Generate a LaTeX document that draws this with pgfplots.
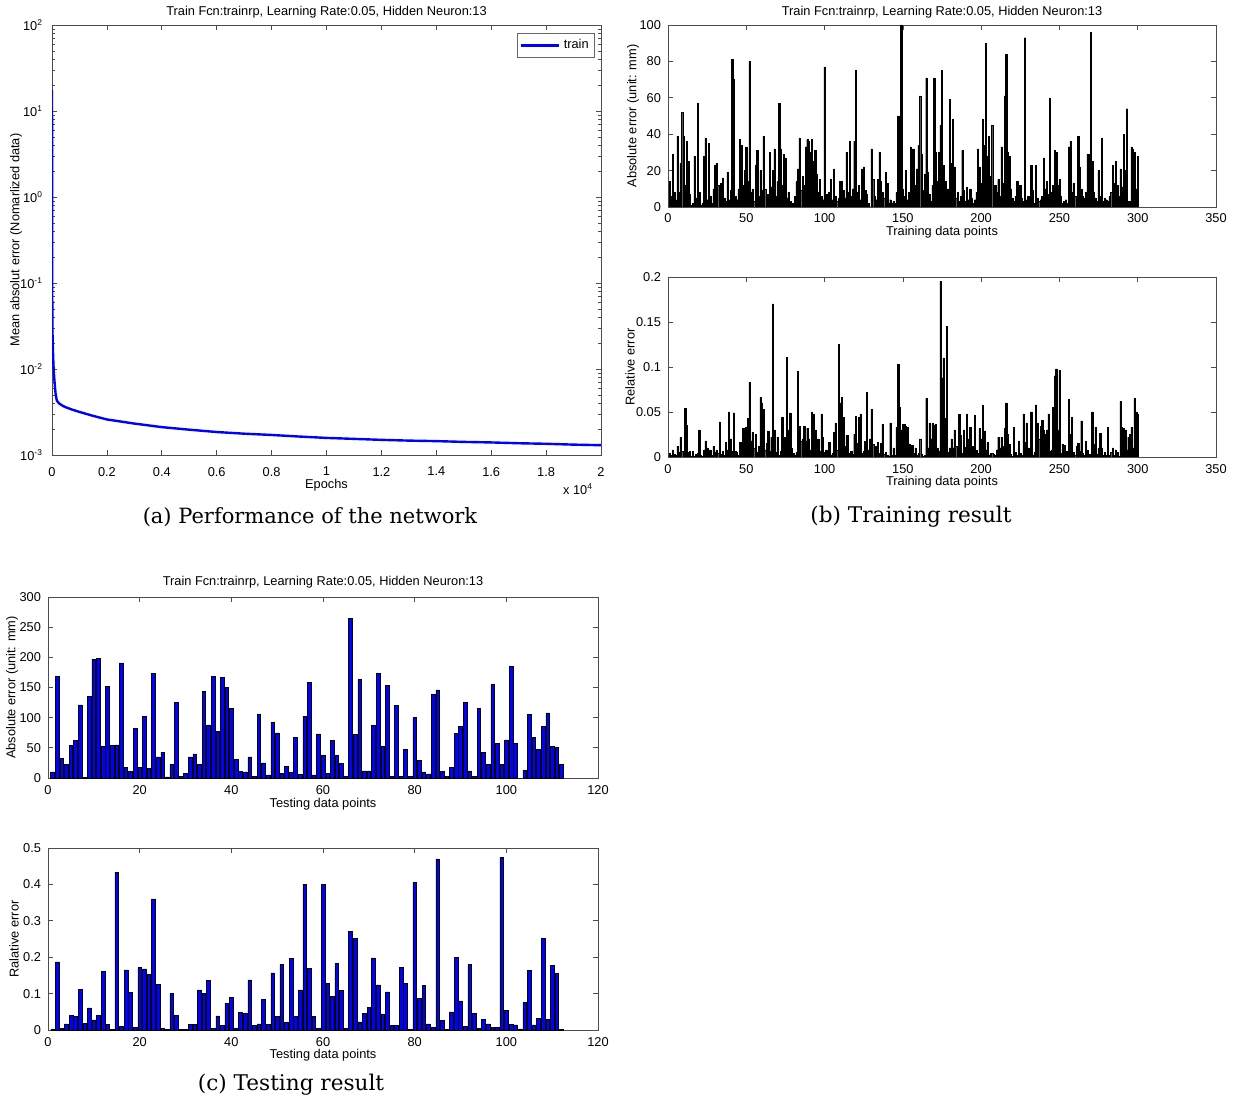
\documentclass[border=0pt]{standalone}
\usepackage{fontspec}
\setmainfont{Liberation Sans}
\newfontfamily\capfont{DejaVu Serif}
\usepackage{pgfplots}
\pgfplotsset{compat=1.18}
\usepackage{pgfplotstable}

\newcommand\mfont{\fontsize{6.4}{7.5}\selectfont}
\newcommand\sups[1]{\raisebox{0.8ex}{\fontsize{4.2}{4.2}\selectfont #1}}
\definecolor{mblue}{rgb}{0,0,1}

% training set, absolute error (mm)
\pgfplotstableread[row sep=\\]{v\\
14\\6\\29\\8\\4\\39\\8\\24\\52\\39\\12\\36\\25\\7\\1\\2\\28\\5\\57\\8\\
1\\2\\28\\38\\4\\35\\6\\2\\10\\23\\24\\12\\8\\13\\16\\5\\3\\19\\4\\9\\
81\\70\\6\\4\\10\\37\\34\\12\\20\\33\\14\\80\\8\\10\\3\\23\\31\\6\\20\\9\\
39\\10\\4\\7\\30\\11\\20\\32\\6\\14\\57\\32\\12\\29\\27\\5\\8\\3\\2\\2\\
6\\14\\21\\38\\9\\17\\12\\33\\37\\36\\30\\37\\25\\31\\18\\8\\15\\6\\4\\77\\
7\\3\\8\\15\\4\\21\\6\\3\\5\\14\\14\\9\\5\\30\\8\\36\\6\\10\\36\\75\\
8\\12\\4\\21\\22\\9\\7\\2\\0\\32\\15\\6\\4\\15\\30\\14\\8\\5\\19\\13\\
2\\4\\2\\3\\2\\8\\50\\29\\100\\10\\6\\20\\4\\8\\33\\32\\32\\12\\21\\34\\
61\\29\\9\\18\\71\\19\\7\\3\\12\\71\\30\\14\\30\\45\\75\\23\\14\\10\\10\\59\\
24\\48\\22\\5\\8\\3\\6\\31\\9\\3\\11\\4\\10\\5\\2\\4\\8\\32\\22\\13\\
48\\34\\90\\28\\39\\17\\45\\8\\12\\8\\15\\6\\33\\13\\61\\84\\30\\28\\10\\5\\
3\\6\\14\\12\\12\\5\\3\\93\\4\\6\\3\\23\\9\\2\\23\\5\\3\\4\\6\\27\\
10\\14\\7\\60\\8\\12\\31\\30\\12\\15\\6\\2\\3\\4\\2\\33\\36\\8\\13\\6\\
5\\39\\22\\10\\6\\5\\8\\29\\29\\96\\25\\8\\5\\3\\20\\6\\38\\3\\5\\4\\
3\\6\\8\\23\\13\\25\\12\\6\\21\\11\\40\\20\\54\\3\\3\\33\\32\\30\\10\\28\\
}\trainabs

% training set, relative error
\pgfplotstableread[row sep=\\]{v\\
0.004\\0.002\\0.008\\0.003\\0.002\\0.012\\0.005\\0.022\\0.006\\0.004\\0.054\\0.035\\0.005\\0.006\\0.001\\0.006\\0.001\\0.003\\0.004\\0.030\\
0.002\\0.001\\0.008\\0.018\\0.010\\0.003\\0.008\\0.002\\0.012\\0.005\\0.008\\0.004\\0.039\\0.003\\0.006\\0.002\\0.016\\0.008\\0.050\\0.020\\
0.006\\0.049\\0.006\\0.005\\0.002\\0.016\\0.016\\0.032\\0.020\\0.033\\0.043\\0.083\\0.018\\0.027\\0.010\\0.025\\0.005\\0.012\\0.066\\0.060\\
0.053\\0.008\\0.015\\0.029\\0.006\\0.022\\0.170\\0.030\\0.005\\0.022\\0.002\\0.006\\0.044\\0.022\\0.022\\0.111\\0.030\\0.049\\0.010\\0.004\\
0.002\\0.005\\0.095\\0.034\\0.018\\0.020\\0.034\\0.018\\0.032\\0.020\\0.008\\0.050\\0.048\\0.030\\0.018\\0.020\\0.006\\0.048\\0.022\\0.005\\
0.008\\0.005\\0.016\\0.002\\0.004\\0.027\\0.038\\0.008\\0.125\\0.060\\0.066\\0.044\\0.012\\0.024\\0.024\\0.004\\0.006\\0.003\\0.025\\0.045\\
0.015\\0.044\\0.048\\0.004\\0.006\\0.017\\0.072\\0.008\\0.020\\0.053\\0.014\\0.004\\0.012\\0.016\\0.004\\0.015\\0.036\\0.003\\0.005\\0.002\\
0.001\\0.038\\0.002\\0.010\\0.002\\0.033\\0.103\\0.055\\0.030\\0.036\\0.036\\0.034\\0.033\\0.014\\0.013\\0.013\\0.004\\0.010\\0.002\\0.004\\
0.020\\0.003\\0.001\\0.002\\0.065\\0.010\\0.038\\0.020\\0.037\\0.035\\0.036\\0.010\\0.006\\0.195\\0.088\\0.110\\0.043\\0.145\\0.005\\0.010\\
0.020\\0.010\\0.030\\0.012\\0.008\\0.047\\0.024\\0.004\\0.030\\0.011\\0.048\\0.020\\0.033\\0.004\\0.012\\0.046\\0.007\\0.004\\0.032\\0.020\\
0.058\\0.029\\0.008\\0.016\\0.002\\0.004\\0.004\\0.003\\0.002\\0.008\\0.022\\0.010\\0.022\\0.012\\0.032\\0.060\\0.025\\0.014\\0.003\\0.001\\
0.033\\0.005\\0.002\\0.018\\0.004\\0.002\\0.048\\0.016\\0.038\\0.010\\0.003\\0.050\\0.002\\0.005\\0.058\\0.038\\0.020\\0.034\\0.041\\0.030\\
0.025\\0.030\\0.048\\0.006\\0.008\\0.055\\0.090\\0.098\\0.030\\0.096\\0.004\\0.014\\0.013\\0.003\\0.006\\0.064\\0.025\\0.044\\0.005\\0.002\\
0.012\\0.015\\0.006\\0.040\\0.004\\0.002\\0.017\\0.008\\0.003\\0.002\\0.050\\0.014\\0.033\\0.003\\0.010\\0.026\\0.010\\0.002\\0.005\\0.002\\
0.033\\0.002\\0.005\\0.010\\0.002\\0.008\\0.005\\0.001\\0.062\\0.033\\0.032\\0.030\\0.008\\0.022\\0.025\\0.033\\0.010\\0.065\\0.050\\0.047\\
}\trainrel

% testing set, absolute error (mm)
\pgfplotstableread[row sep=\\]{v\\
10\\168\\33\\23\\54\\62\\121\\1\\135\\197\\198\\53\\152\\54\\55\\191\\17\\11\\82\\18\\
102\\16\\174\\35\\43\\2\\23\\125\\3\\8\\35\\40\\22\\144\\88\\169\\77\\167\\150\\116\\
31\\11\\10\\35\\3\\105\\25\\5\\92\\75\\8\\19\\9\\67\\6\\102\\159\\5\\73\\37\\
8\\62\\38\\24\\3\\265\\72\\163\\12\\12\\87\\173\\53\\154\\3\\120\\3\\48\\3\\100\\
29\\10\\7\\139\\146\\11\\3\\18\\74\\86\\125\\12\\3\\115\\43\\22\\155\\57\\23\\63\\
185\\58\\0\\13\\106\\67\\47\\85\\108\\52\\51\\22\\
}\testabs

% testing set, relative error
\pgfplotstableread[row sep=\\]{v\\
0.003\\0.187\\0.005\\0.017\\0.040\\0.037\\0.111\\0.018\\0.061\\0.028\\0.040\\0.162\\0.015\\0.002\\0.434\\0.010\\0.165\\0.104\\0.008\\0.172\\
0.168\\0.152\\0.360\\0.126\\0.004\\0.002\\0.101\\0.040\\0.002\\0.002\\0.016\\0.016\\0.110\\0.100\\0.136\\0.004\\0.039\\0.012\\0.074\\0.090\\
0.004\\0.048\\0.046\\0.138\\0.013\\0.017\\0.084\\0.016\\0.157\\0.037\\0.180\\0.021\\0.196\\0.037\\0.110\\0.400\\0.170\\0.037\\0.005\\0.400\\
0.128\\0.093\\0.183\\0.109\\0.005\\0.270\\0.252\\0.022\\0.046\\0.062\\0.198\\0.124\\0.044\\0.105\\0.012\\0.012\\0.173\\0.128\\0.002\\0.405\\
0.087\\0.122\\0.017\\0.008\\0.470\\0.026\\0.002\\0.050\\0.200\\0.080\\0.010\\0.180\\0.046\\0.004\\0.030\\0.017\\0.008\\0.008\\0.475\\0.053\\
0.016\\0.014\\0.003\\0.076\\0.163\\0.014\\0.031\\0.252\\0.029\\0.178\\0.155\\0.002\\
}\testrel

\pgfplotsset{
  mat/.style={
    scale only axis, anchor=south west,
    axis line style={black!70, line width=0.4pt},
    every tick/.style={black!70, line width=0.35pt},
    major tick length=2.5pt, minor tick length=1.3pt,
    tick align=inside,
    tick label style={font=\mfont},
    label style={font=\mfont},
    title style={font=\mfont},
    scaled ticks=false,
    /pgf/number format/assume math mode=true,
  },
}

\begin{document}
\begin{tikzpicture}
\useasboundingbox (0,0) rectangle (621pt,549.5pt);

% (a) performance
\begin{axis}[mat, clip mode=individual,
  at={(26pt,322pt)}, width=274.5pt, height=215pt,
  ymode=log, xmin=0, xmax=20000, ymin=1e-3, ymax=100,
  xtick={0,2000,4000,6000,8000,10000,12000,14000,16000,18000,20000},
  xticklabels={0,0.2,0.4,0.6,0.8,1,1.2,1.4,1.6,1.8,2},
  xticklabel style={yshift=-2.5pt},
  ytick={1e-3,1e-2,1e-1,1,10,100},
  yticklabels={10\sups{-3},10\sups{-2},10\sups{-1},10\sups{0},10\sups{1},10\sups{2}},
  yticklabel style={xshift=-1.5pt},
  minor ytick={2e-3,3e-3,4e-3,5e-3,6e-3,7e-3,8e-3,9e-3,
    2e-2,3e-2,4e-2,5e-2,6e-2,7e-2,8e-2,9e-2,
    2e-1,3e-1,4e-1,5e-1,6e-1,7e-1,8e-1,9e-1,
    2,3,4,5,6,7,8,9,20,30,40,50,60,70,80,90},
  title={Train Fcn:trainrp, Learning Rate:0.05, Hidden Neuron:13},
  title style={at={(axis description cs:0.5,1)}, anchor=center, yshift=0.5pt},
  xlabel={Epochs},
  xlabel style={at={(axis description cs:0.5,0)}, anchor=center, yshift=-15pt},
  ylabel={Mean absolut error (Nomarlized data)},
  ylabel style={at={(axis description cs:-0.0656,0.5)}, anchor=center},
  legend style={at={(axis description cs:0.989,0.981)}, anchor=north east,
    font=\mfont, draw=black!60, line width=0.3pt, inner sep=1pt,
    row sep=-1pt},
  legend image code/.code={\draw[mblue, line width=1.2pt] (0pt,0pt) -- (19pt,0pt);},
]
\addplot[mblue, line width=1.2pt] coordinates {
  (0,17.6) (2,8) (4,2) (6,0.5) (8,0.15) (10,0.07) (15,0.035) (20,0.025)
  (30,0.018) (45,0.013) (60,0.010) (80,0.0080) (100,0.0066) (130,0.0052)
  (175,0.0043) (250,0.0040) (350,0.0038) (472,0.00362) (700,0.00340)
  (1012,0.00316) (1500,0.00285) (2000,0.00259) (3000,0.00232) (4000,0.00211)
  (5000,0.00197) (6000,0.00185) (7000,0.00177) (8000,0.00171) (9000,0.00164)
  (10000,0.00158) (11000,0.00154) (12000,0.00150) (13000,0.00147)
  (14000,0.00145) (15000,0.00142) (16000,0.00140) (17000,0.00137)
  (18000,0.00135) (19000,0.00132) (20000,0.00130)};
\legend{train}
\node[anchor=east, font=\mfont] at (axis description cs:1,0) [yshift=-17pt, xshift=-1pt] {x 10\sups{4}};
\end{axis}

% (b) training, absolute
\begin{axis}[mat,
  at={(334pt,446pt)}, width=274pt, height=91pt,
  xmin=0, xmax=350, ymin=0, ymax=100,
  xtick={0,50,...,350}, ytick={0,20,...,100},
  title={Train Fcn:trainrp, Learning Rate:0.05, Hidden Neuron:13},
  title style={at={(axis description cs:0.5,1)}, anchor=center, yshift=0.5pt},
  xlabel={Training data points},
  xlabel style={at={(axis description cs:0.5,0)}, anchor=center, yshift=-12.5pt},
  ylabel={Absolute error (unit: mm)},
  ylabel style={at={(axis description cs:-0.0639,0.5)}, anchor=center},
]
\addplot[ybar, bar width=0.8, fill=black, draw=black, line width=0.2pt]
  table[x expr=\coordindex+1, y=v] {\trainabs};
\end{axis}

% (b) training, relative
\begin{axis}[mat,
  at={(334pt,321pt)}, width=274pt, height=90pt,
  xmin=0, xmax=350, ymin=0, ymax=0.2,
  xtick={0,50,...,350}, ytick={0,0.05,0.1,0.15,0.2},
  yticklabels={0,0.05,0.1,0.15,0.2},
  xlabel={Training data points},
  xlabel style={at={(axis description cs:0.5,0)}, anchor=center, yshift=-12.5pt},
  ylabel={Relative error},
  ylabel style={at={(axis description cs:-0.0693,0.5)}, anchor=center},
]
\addplot[ybar, bar width=0.8, fill=black, draw=black, line width=0.2pt]
  table[x expr=\coordindex+1, y=v] {\trainrel};
\end{axis}

% (c) testing, absolute
\begin{axis}[mat,
  at={(24pt,160.5pt)}, width=275pt, height=90.5pt,
  xmin=0, xmax=120, ymin=0, ymax=300,
  xtick={0,20,...,120}, ytick={0,50,...,300},
  title={Train Fcn:trainrp, Learning Rate:0.05, Hidden Neuron:13},
  title style={at={(axis description cs:0.5,1)}, anchor=center, yshift=1.5pt},
  xlabel={Testing data points},
  xlabel style={at={(axis description cs:0.5,0)}, anchor=center, yshift=-13pt},
  ylabel={Absolute error (unit: mm)},
  ylabel style={at={(axis description cs:-0.0655,0.5)}, anchor=center},
]
\addplot[ybar, bar width=0.8, fill=mblue, draw=black, line width=0.25pt]
  table[x expr=\coordindex+1, y=v] {\testabs};
\end{axis}

% (c) testing, relative
\begin{axis}[mat,
  at={(24pt,34.5pt)}, width=275pt, height=91pt,
  xmin=0, xmax=120, ymin=0, ymax=0.5,
  xtick={0,20,...,120}, ytick={0,0.1,0.2,0.3,0.4,0.5},
  yticklabels={0,0.1,0.2,0.3,0.4,0.5},
  xlabel={Testing data points},
  xlabel style={at={(axis description cs:0.5,0)}, anchor=center, yshift=-12.5pt},
  ylabel={Ralative error},
  ylabel style={at={(axis description cs:-0.0618,0.5)}, anchor=center},
]
\addplot[ybar, bar width=0.8, fill=mblue, draw=black, line width=0.25pt]
  table[x expr=\coordindex+1, y=v] {\testrel};
\end{axis}

% sub-captions
\node[font=\capfont\fontsize{10.5}{13}\selectfont] at (155pt,291pt) {(a) Performance of the network};
\node[font=\capfont\fontsize{10.8}{13}\selectfont] at (455.5pt,291pt) {(b) Training result};
\node[font=\capfont\fontsize{10.8}{13}\selectfont] at (145.5pt,7pt) {(c) Testing result};
\end{tikzpicture}
\end{document}
